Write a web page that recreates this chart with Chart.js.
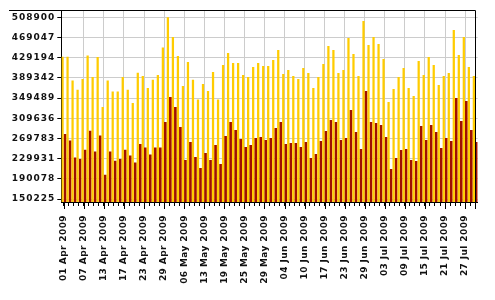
<!DOCTYPE html>
<html lang="en">
<head>
    <meta charset="UTF-8">
    <title>Daily totals Apr - Jul 2009</title>
    <script src="https://cdn.jsdelivr.net/npm/chart.js"></script>
    <style>
        body {
            margin: 0;
            background: #ffffff;
        }

        #chart-container {
            width: 495px;
            height: 300px;
        }
    </style>
</head>
<body>
    <div id="chart-container">
        <canvas id="dailyChart"></canvas>
    </div>

    <script>
        // labels shown under every 4th bar
        const dateTicks = [
            "01 Apr 2009", "07 Apr 2009", "13 Apr 2009", "17 Apr 2009", "23 Apr 2009",
            "29 Apr 2009", "06 May 2009", "13 May 2009", "19 May 2009", "25 May 2009",
            "29 May 2009", "04 Jun 2009", "10 Jun 2009", "17 Jun 2009", "23 Jun 2009",
            "29 Jun 2009", "03 Jul 2009", "09 Jul 2009", "15 Jul 2009", "21 Jul 2009",
            "27 Jul 2009"
        ];

        const yTicks = [150225, 190078, 229931, 269783, 309636, 349489, 389342, 429194, 469047, 508900];

        const totalValues = [
            431300, 431300, 384000, 366200, 387200, 433300, 391200, 430600, 332000, 384000,
            362300, 362300, 391200, 366200, 339900, 399700, 393200, 369500, 385900, 395100,
            449100, 508900, 470100, 432600, 373400, 420800, 385900, 346500, 377400, 363600,
            401100, 346500, 414900, 438500, 418800, 418800, 395100, 391200, 410900, 418800,
            412900, 412900, 424700, 444500, 397100, 405000, 393200, 387200, 408900, 399100,
            369500, 391200, 416800, 452300, 444500, 399100, 405000, 468100, 436600, 393200,
            501700, 454300, 470100, 456300, 426700, 341900, 367500, 391200, 408900, 369500,
            353700, 422800, 395100, 430600, 414900, 375400, 393200, 399100, 483900, 434600,
            470100, 410900, 393200
        ];

        const partValues = [
            278700, 265600, 232100, 229400, 247800, 285300, 243900, 275500, 198500, 243900,
            226100, 229400, 247800, 236000, 222200, 259000, 251800, 238000, 251800, 251800,
            302400, 351700, 332000, 292600, 227400, 263000, 233400, 211700, 241300, 227400,
            257000, 219600, 274800, 302400, 286600, 268900, 253100, 257000, 270800, 272800,
            266900, 270800, 290600, 302400, 259000, 261000, 261000, 253100, 263000, 231400,
            239300, 264900, 284700, 306400, 302400, 266900, 270800, 326100, 282700, 249100,
            363600, 302400, 300400, 296500, 272800, 209700, 231400, 247200, 249100, 227400,
            225500, 294500, 266900, 296500, 282700, 251100, 270800, 264900, 349800, 304400,
            343800, 286600, 263000
        ];

        const categories = totalValues.map((v, i) => i % 4 === 0 ? dateTicks[i / 4] : "");

        const labelFont = { family: "DejaVu Sans", size: 9, weight: "bold" };

        // top line, right border and the longer ticks under each label
        const framePlugin = {
            id: "frame",
            afterLayout(chart) {
                // date labels get a little less letter spacing than the value labels
                const x = chart.scales.x;
                if (!x._spaced) {
                    const drawLabels = x.drawLabels;
                    x.drawLabels = function (area) {
                        const prev = this.ctx.letterSpacing;
                        this.ctx.letterSpacing = "0.4px";
                        drawLabels.call(this, area);
                        this.ctx.letterSpacing = prev;
                    };
                    x._spaced = true;
                }
            },
            beforeDraw(chart) {
                chart.ctx.letterSpacing = "1px";
            },
            afterDraw(chart) {
                const { ctx, chartArea: a } = chart;
                const x = chart.scales.x;
                const right = Math.round(x.getPixelForValue(categories.length - 1)) + 0.5;
                ctx.save();
                ctx.strokeStyle = "#000";
                ctx.lineWidth = 1;
                ctx.beginPath();
                ctx.moveTo(9, a.top + 0.5);
                ctx.lineTo(right, a.top + 0.5);
                ctx.lineTo(right, a.bottom + 7);
                for (let i = 0; i < categories.length; i += 4) {
                    const px = Math.round(x.getPixelForValue(i)) + 0.5;
                    ctx.moveTo(px, a.bottom);
                    ctx.lineTo(px, a.bottom + 7);
                }
                ctx.stroke();
                ctx.restore();
            }
        };

        new Chart(document.getElementById("dailyChart"), {
            type: "bar",
            data: {
                labels: categories,
                datasets: [
                    {
                        label: "Total",
                        data: totalValues,
                        backgroundColor: "#ffcc00",
                        barPercentage: 0.9,
                        categoryPercentage: 1.0
                    },
                    {
                        label: "Part",
                        data: partValues,
                        backgroundColor: "#a01000",
                        barPercentage: 1.1,
                        categoryPercentage: 1.0
                    }
                ]
            },
            options: {
                responsive: true,
                maintainAspectRatio: false,
                animation: false,
                devicePixelRatio: 1,
                layout: { padding: { top: 10, right: 14.5, left: 0, bottom: 0 } },
                plugins: {
                    legend: { display: false },
                    tooltip: { enabled: false }
                },
                scales: {
                    x: {
                        offset: true,
                        afterFit: scale => { scale.height = 98; },
                        grid: {
                            offset: false,
                            color: c => (c.index % 4 === 0 && c.index > 0) ? "#cccccc" : "rgba(0,0,0,0)",
                            tickColor: "#000",
                            tickLength: 4
                        },
                        border: { display: true, color: "#000" },
                        ticks: {
                            autoSkip: false,
                            minRotation: 90,
                            maxRotation: 90,
                            padding: 9,
                            color: "#111",
                            font: labelFont
                        }
                    },
                    y: {
                        min: 144500,
                        max: 523300,
                        afterFit: scale => { scale.width = 61.3; },
                        afterBuildTicks: axis => { axis.ticks = yTicks.map(v => ({ value: v })); },
                        grid: {
                            color: "#cccccc",
                            tickColor: "#000",
                            tickLength: 4
                        },
                        border: { display: true, color: "#000" },
                        ticks: {
                            padding: 2,
                            color: "#111",
                            font: labelFont,
                            callback: v => String(Math.round(v))
                        }
                    }
                }
            },
            plugins: [framePlugin]
        });
    </script>
</body>
</html>
